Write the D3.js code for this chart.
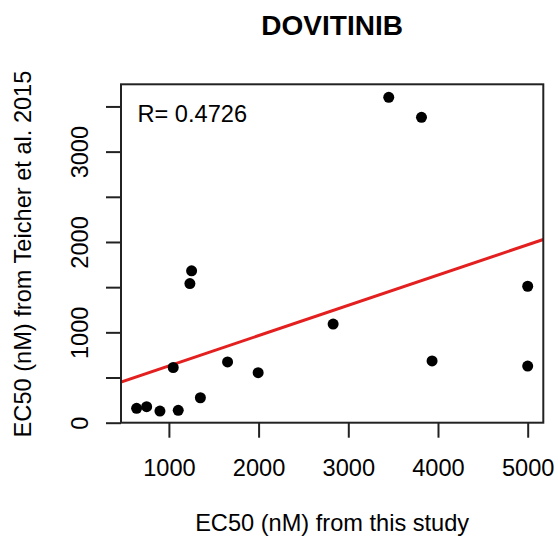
<!DOCTYPE html>
<html>
<head>
<meta charset="utf-8">
<script src="https://cdn.jsdelivr.net/npm/d3@7"></script>
<style>
  html, body { margin: 0; padding: 0; background: #fff; }
  svg text { font-family: "Liberation Sans", Arial, sans-serif; fill: #000; }
</style>
</head>
<body>
<svg id="chart" width="558" height="539"></svg>
<script>
// ---- data ----
const thisStudy = [640, 752, 900, 1104, 1048, 1253, 1234, 1351, 1654, 1995, 2831, 3451, 3816, 3934, 5000, 5000];
const teicher   = [159, 177, 129, 137, 611, 1681, 1540, 276, 672, 553, 1092, 3601, 3380, 683, 1510, 627];
const xTicks = [1000, 2000, 3000, 4000, 5000];
const yTicks = [0, 500, 1000, 1500, 2000, 2500, 3000, 3500];
const yTickLabels = [0, 1000, 2000, 3000];
const fitIntercept = 294;
const fitSlope = 0.335;
const rLabel = "R= 0.4726";
const title = "DOVITINIB";
const xTitle = "EC50 (nM) from this study";
const yTitle = "EC50 (nM) from Teicher et al. 2015";

// ---- layout ----
const svg = d3.select("#chart");
const L = 121, R = 543.3, T = 84.3, B = 422.7;
const x = d3.scaleLinear().domain([466, 5174]).range([L, R]);
const y = d3.scaleLinear().domain([0, 3745]).range([B, T]);
const fs = 23.6;

// clip
svg.append("clipPath").attr("id", "clip")
  .append("rect").attr("x", L).attr("y", T).attr("width", R - L).attr("height", B - T);

// x axis
const xAxis = d3.axisBottom(x).tickValues(xTicks).tickSize(15).tickPadding(18).tickFormat(d3.format("d"));
const gx = svg.append("g").attr("transform", `translate(0,${B})`).call(xAxis);
gx.select(".domain").remove();
gx.selectAll("line").attr("stroke", "#222").attr("stroke-width", 2);
gx.selectAll("text").attr("font-size", fs).attr("dy", null).attr("y", 476 - B);

// y axis
const yAxis = d3.axisLeft(y).tickValues(yTicks).tickSize(15)
  .tickFormat(d => yTickLabels.includes(d) ? String(d) : "");
const gy = svg.append("g").attr("transform", `translate(${L},0)`).call(yAxis);
gy.select(".domain").remove();
gy.selectAll("line").attr("stroke", "#222").attr("stroke-width", 2);
gy.selectAll("text")
  .attr("font-size", fs)
  .attr("x", null).attr("dy", null)
  .attr("text-anchor", "middle")
  .attr("transform", `translate(${87.5 - L},0) rotate(-90)`);

// regression line
const xd = x.domain();
svg.append("line")
  .attr("clip-path", "url(#clip)")
  .attr("x1", x(xd[0])).attr("y1", y(fitIntercept + fitSlope * xd[0]))
  .attr("x2", x(xd[1])).attr("y2", y(fitIntercept + fitSlope * xd[1]))
  .attr("stroke", "#e3201f").attr("stroke-width", 3);

// points
svg.append("g").selectAll("circle")
  .data(thisStudy.map((v, i) => [v, teicher[i]]))
  .join("circle")
  .attr("cx", d => x(d[0])).attr("cy", d => y(d[1]))
  .attr("r", 5.5).attr("fill", "#000");

// box
svg.append("rect").attr("x", L).attr("y", T).attr("width", R - L).attr("height", B - T)
  .attr("fill", "none").attr("stroke", "#222").attr("stroke-width", 2);

// R label
svg.append("text").attr("x", 137.5).attr("y", 121.5).attr("font-size", fs).text(rLabel);

// title
svg.append("text").attr("x", (L + R) / 2).attr("y", 35).attr("text-anchor", "middle")
  .attr("font-size", 28).attr("font-weight", "bold").text(title);

// axis titles
svg.append("text").attr("x", (L + R) / 2).attr("y", 531).attr("text-anchor", "middle")
  .attr("font-size", fs).text(xTitle);
svg.append("text").attr("transform", `translate(31,${(T + B) / 2 + 0.5}) rotate(-90)`)
  .attr("text-anchor", "middle").attr("font-size", fs).text(yTitle);
</script>
</body>
</html>
